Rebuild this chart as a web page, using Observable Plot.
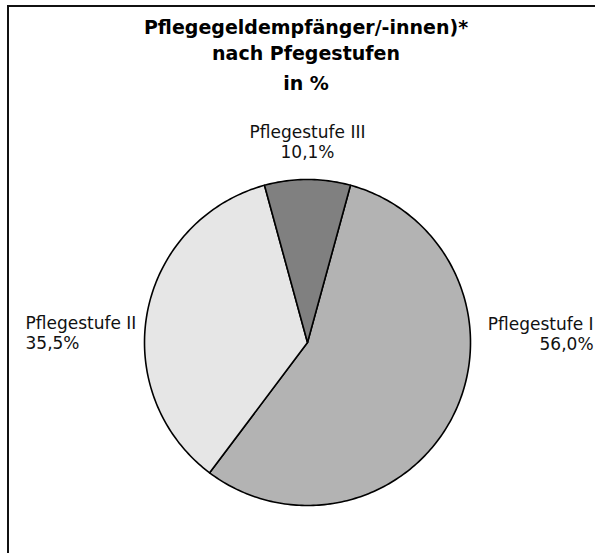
<!DOCTYPE html>
<html>
<head>
<meta charset="utf-8">
<script src="https://cdn.jsdelivr.net/npm/d3@7"></script>
<script src="https://cdn.jsdelivr.net/npm/@observablehq/plot@0.6"></script>
<style>
  html, body { margin: 0; padding: 0; background: #fff; }
  #wrap { position: relative; width: 595px; height: 553px; overflow: hidden; font-family: "DejaVu Sans", sans-serif; }
  #frame { position: absolute; left: 7px; top: 5px; width: 700px; height: 700px; border-top: 2px solid #111; border-left: 2px solid #111; }
  .t { position: absolute; left: 0; width: 612px; text-align: center; font-weight: bold; font-size: 19px; color: #000; line-height: 22px; }
  #chart { position: absolute; left: 0; top: 0; }
</style>
</head>
<body>
<div id="wrap">
  <div id="frame"></div>
  <div class="t" style="top:16px">Pflegegeldempfänger/-innen)*</div>
  <div class="t" style="top:42px">nach Pfegestufen</div>
  <div class="t" style="top:72px">in %</div>
  <div id="chart"></div>
</div>
<script>
// Data
const categories = ["Pflegestufe I", "Pflegestufe II", "Pflegestufe III"];
const shares = [56.0, 35.5, 8.5];          // slice sizes as drawn
const shareLabels = ["56,0%", "35,5%", "10,1%"]; // printed labels
const colors = ["#b3b3b3", "#e6e6e6", "#808080"];

// Layout (unit-circle coordinates)
const W = 595, H = 553, cx = 307, cy = 342, R = 163;
const labelPos = [
  {x: 1.755, y: 0.055, anchor: "end"},
  {x: -1.73, y: 0.061, anchor: "start"},
  {x: 0, y: 1.233, anchor: "middle"}
];

// Slice geometry: clockwise from top, Pflegestufe III centred on top
const total = d3.sum(shares);
let a = Math.PI * shares[2] / total; // start of slice I
const slices = categories.map((c, i) => {
  const a0 = a, a1 = a + 2 * Math.PI * shares[i] / total;
  a = a1;
  const n = Math.max(8, Math.ceil((a1 - a0) / (Math.PI / 180)));
  const pts = [{x: 0, y: 0}];
  for (let k = 0; k <= n; k++) {
    const t = a0 + (a1 - a0) * k / n;
    pts.push({x: Math.sin(t), y: Math.cos(t)});
  }
  pts.push({x: 0, y: 0});
  return {category: c, color: colors[i], pts};
});

const labels = categories.map((c, i) => ({
  text: c + "\n" + shareLabels[i], ...labelPos[i]
}));

const marks = slices.map(s => Plot.line(s.pts, {
  x: "x", y: "y", fill: s.color, stroke: "#000", strokeWidth: 1.6, curve: "linear-closed"
}));
for (const anchor of ["start", "middle", "end"]) {
  marks.push(Plot.text(labels.filter(d => d.anchor === anchor), {
    x: "x", y: "y", text: "text", textAnchor: anchor, lineAnchor: "middle",
    lineHeight: 1.2, fontSize: 17, fill: "#111"
  }));
}

const chart = Plot.plot({
  width: W, height: H,
  margin: 0,
  style: {background: "transparent", fontFamily: "DejaVu Sans, sans-serif", overflow: "visible"},
  x: {domain: [(0 - cx) / R, (W - cx) / R], range: [0, W], axis: null},
  y: {domain: [(cy - H) / R, cy / R], range: [H, 0], axis: null},
  marks
});
document.getElementById("chart").appendChild(chart);
</script>
</body>
</html>
